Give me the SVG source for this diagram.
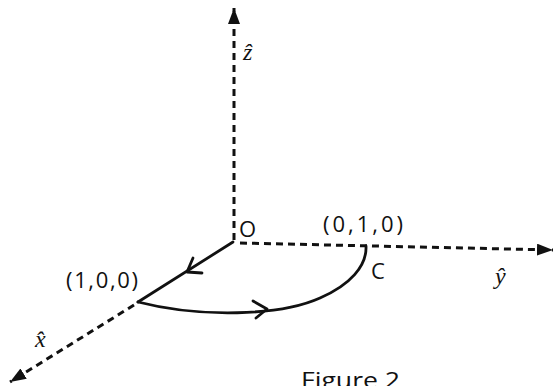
<svg xmlns="http://www.w3.org/2000/svg" width="553" height="386" viewBox="0 0 553 386">
<style>
.axis{stroke:#111;stroke-width:3;fill:none;stroke-dasharray:7 5}
.solid{stroke:#111;stroke-width:2.8;fill:none;stroke-linecap:round;stroke-linejoin:round}
.lbl{font-family:"Open Sans","Liberation Sans",sans-serif;font-size:22px;fill:#111}
.hat{font-family:"Liberation Serif",serif;font-style:italic;font-size:24px;fill:#111}
</style>
<defs>
<marker id="tri" viewBox="0 0 16 12" refX="16" refY="6" markerWidth="16" markerHeight="12" markerUnits="userSpaceOnUse" orient="auto">
<path d="M0,0 L16,6 L0,12 Z" fill="#111"/>
</marker>
</defs>
<rect width="553" height="386" fill="#fff"/>
<g id="connectors">
<line id="z-axis" class="axis" x1="234" y1="240" x2="234" y2="8" marker-end="url(#tri)"/>
<line id="y-axis" class="axis" x1="240" y1="243" x2="553" y2="250" marker-end="url(#tri)"/>
<line id="x-axis" class="axis" x1="134" y1="305" x2="10" y2="382" marker-end="url(#tri)"/>
<line id="seg-O-A" class="solid" x1="233" y1="242" x2="138" y2="302"/>
<path id="open-arrow-1" class="solid" d="M193,258 L187,272 L202,273"/>
<path id="curve-A-C" class="solid" d="M138,302 C200,318 280,316 320,298 C350,285 367,266 366,246"/>
<path id="open-arrow-2" class="solid" d="M253,301 L267,309 L256,318"/>
</g>
<g id="node-O"><text class="lbl" x="239" y="237">O</text></g>
<g id="node-010"><text class="lbl" x="323" y="232" textLength="80" lengthAdjust="spacing">(0,1,0)</text></g>
<g id="node-C"><text class="lbl" x="371" y="279">C</text></g>
<g id="node-100"><text class="lbl" x="66" y="288" textLength="72" lengthAdjust="spacing">(1,0,0)</text></g>
<g id="label-z"><text class="hat" x="243" y="60">ẑ</text></g>
<g id="label-y"><text class="hat" x="495" y="284">ŷ</text></g>
<g id="label-x"><text class="hat" x="35" y="347">x̂</text></g>
<g id="caption"><text class="lbl" x="301" y="388" style="font-size:22px" textLength="99" lengthAdjust="spacingAndGlyphs">Figure 2</text></g>
</svg>
